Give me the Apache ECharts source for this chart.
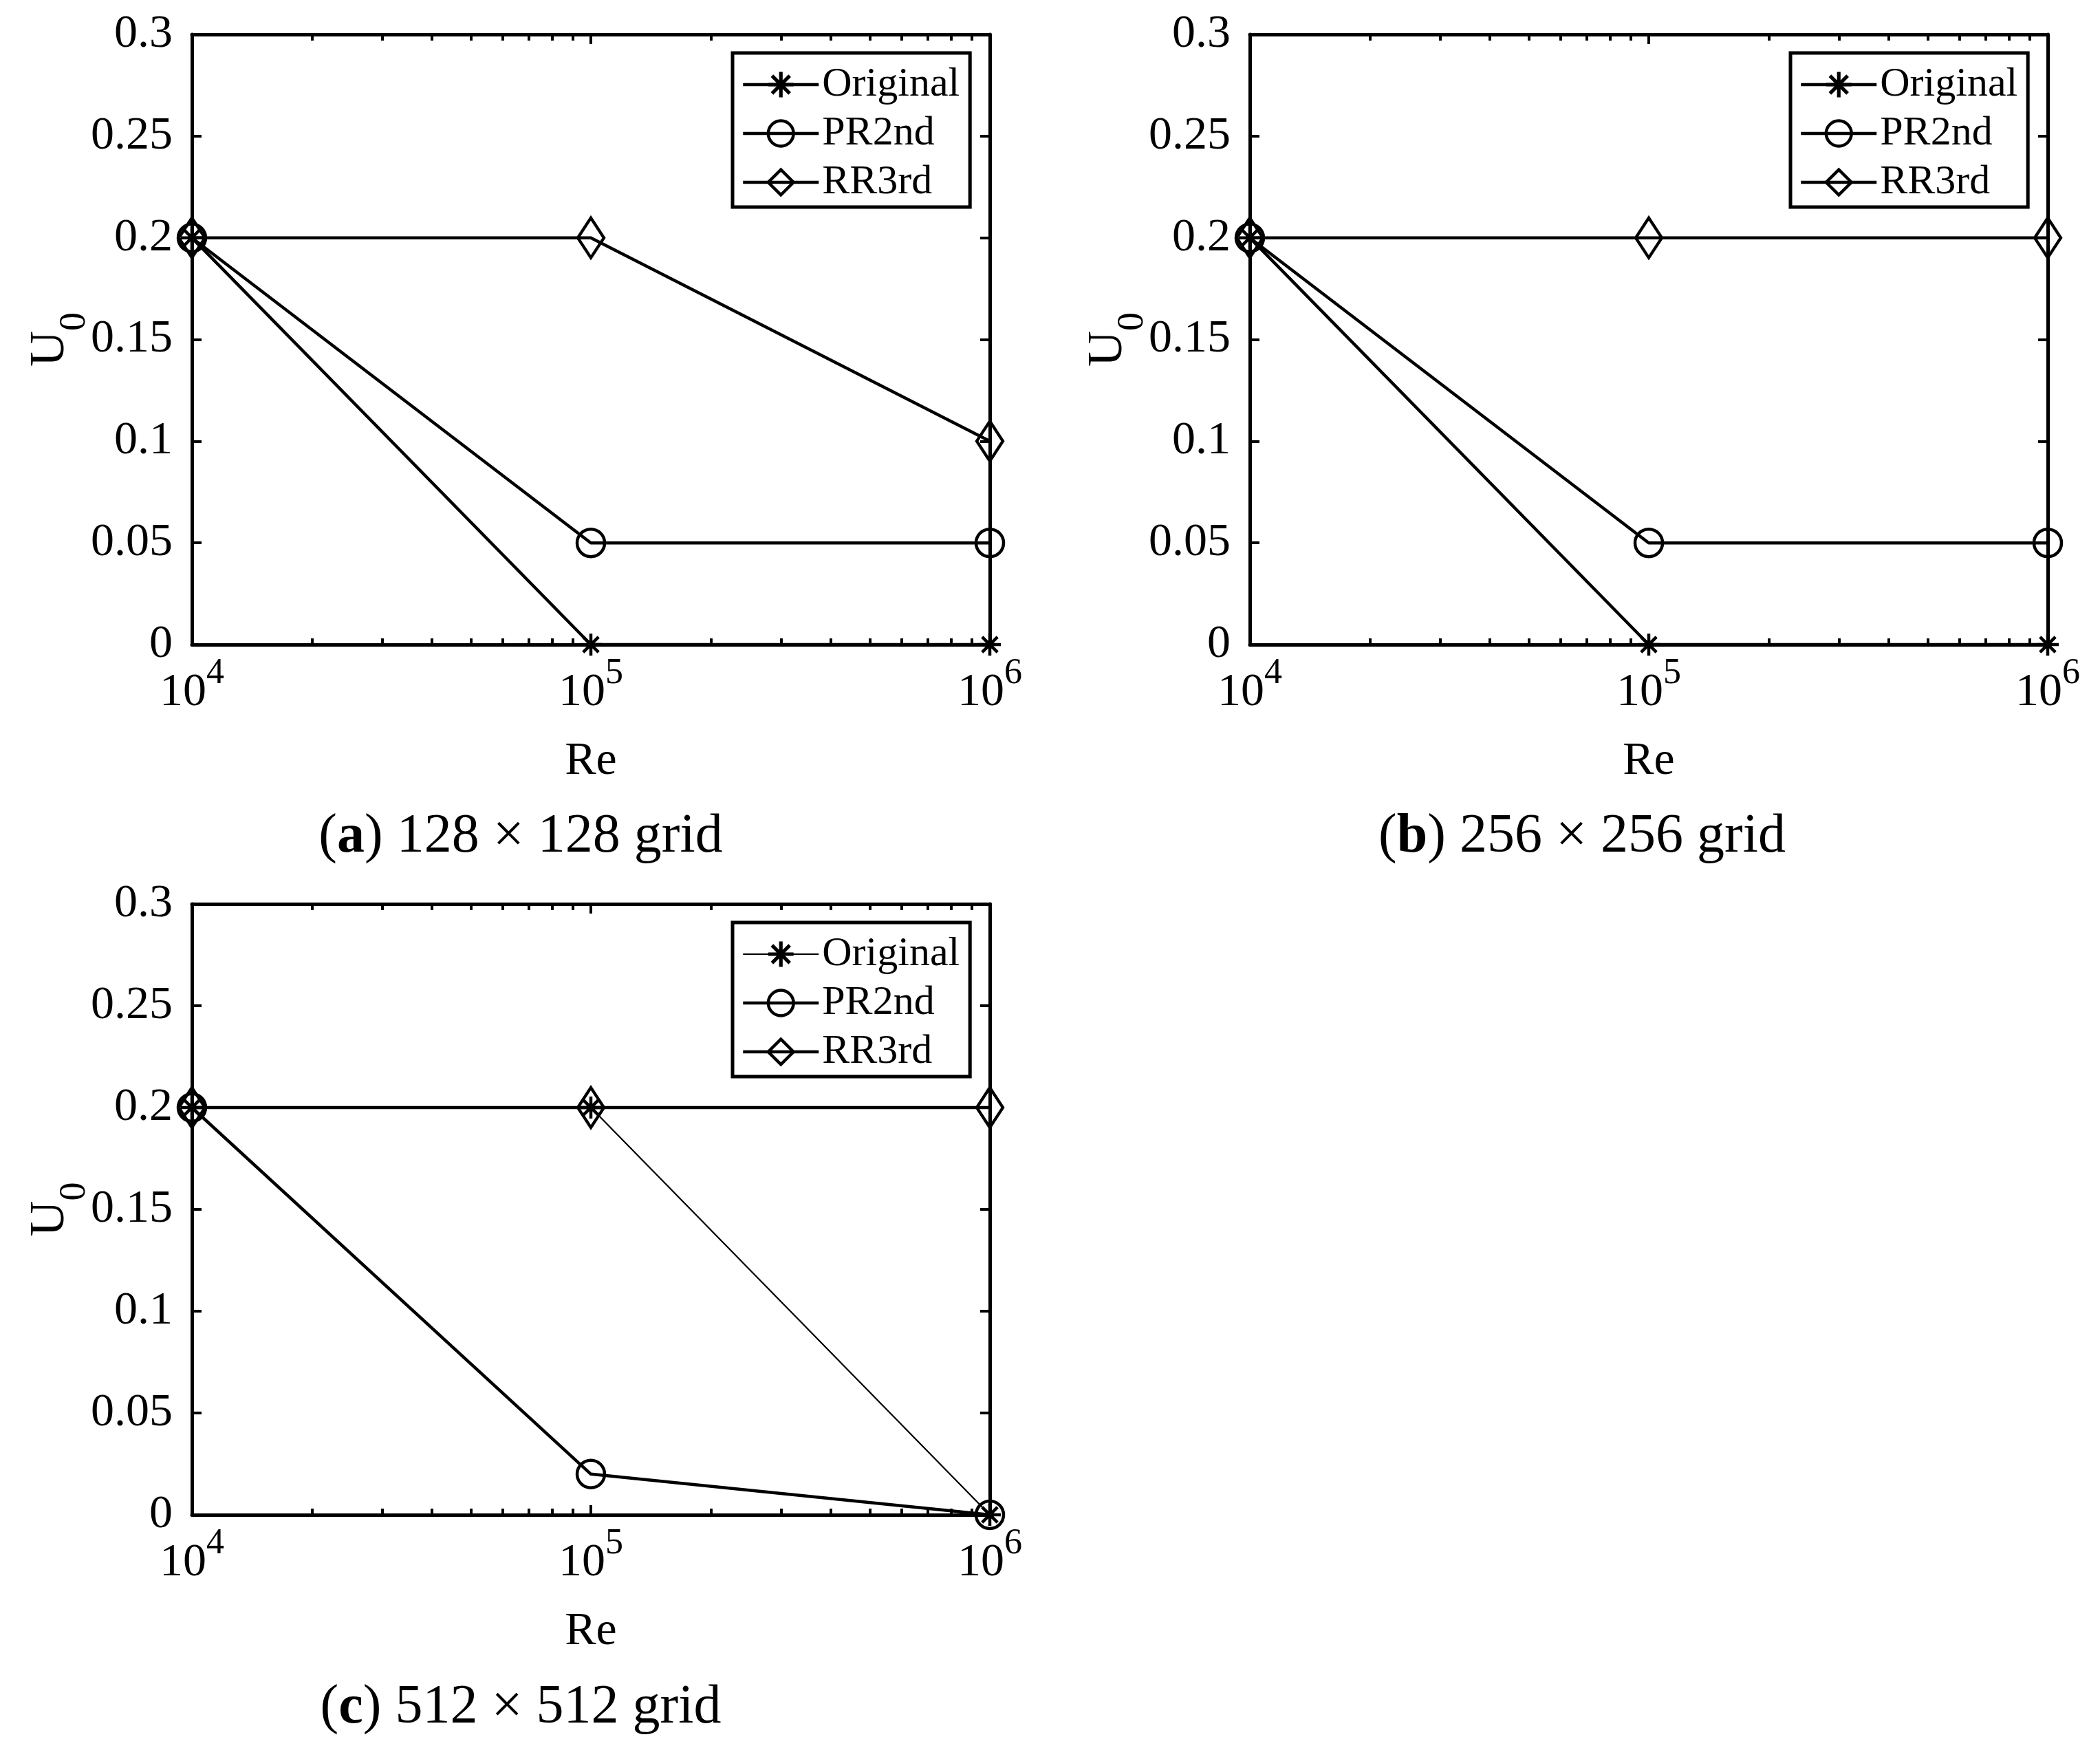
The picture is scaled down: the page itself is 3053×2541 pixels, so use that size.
<!DOCTYPE html>
<html lang="en">
<head>
<meta charset="UTF-8">
<title>U0 vs Re</title>
<script src="https://cdn.jsdelivr.net/npm/echarts@6/dist/echarts.min.js"></script>
<style>
  html, body { margin: 0; padding: 0; background: #fff; }
  #chart { width: 3053px; height: 2541px; }
</style>
</head>
<body>
<div id="chart"></div>
<script>
// data
var reValues = [1e4, 1e5, 1e6];
var reMinorTicks = [2e4, 3e4, 4e4, 5e4, 6e4, 7e4, 8e4, 9e4, 2e5, 3e5, 4e5, 5e5, 6e5, 7e5, 8e5, 9e5];
var seriesNames = ['Original', 'PR2nd', 'RR3rd'];

var originalA = [0.2, 0, 0];
var pr2ndA = [0.2, 0.05, 0.05];
var rr3rdA = [0.2, 0.2, 0.1];

var originalB = [0.2, 0, 0];
var pr2ndB = [0.2, 0.05, 0.05];
var rr3rdB = [0.2, 0.2, 0.2];

var originalC = [0.2, 0.2, 0];
var pr2ndC = [0.2, 0.02, 0];
var rr3rdC = [0.2, 0.2, 0.2];

var captionTags = ['a', 'b', 'c'];
var captionTexts = ['128 × 128 grid', '256 × 256 grid', '512 × 512 grid'];

var FONT = '"Liberation Serif", "Times New Roman", serif';
var ASTERISK = 'path://M43 0L57 0L57 100L43 100Z M0 43L100 43L100 57L0 57Z ' +
  'M20 10L90 80L80 90L10 20Z M80 10L90 20L20 90L10 80Z';

var panels = [
  { left: 279, top: 50, width: 1160, height: 887, series: [originalA, pr2ndA, rr3rdA], origWidth: 4.5, capX: 757, capY: 1217 },
  { left: 1817, top: 50, width: 1160, height: 887, series: [originalB, pr2ndB, rr3rdB], origWidth: 4.5, capX: 2300, capY: 1217 },
  { left: 279, top: 1314, width: 1160, height: 888, series: [originalC, pr2ndC, rr3rdC], origWidth: 2.2, capX: 757, capY: 2483 }
];

var LINE_W = 4.5;

var chart = echarts.init(document.getElementById('chart'));

var grids = [], xAxes = [], yAxes = [], series = [], legends = [], graphics = [];

var axisLine = { show: true, onZero: false, lineStyle: { color: '#000', width: 5 } };
var majorTick = { show: true, inside: true, length: 14, lineStyle: { color: '#000', width: 4 } };

function reLabel(v) {
  return '{m|10}{s|' + Math.round(Math.log10(v)) + '}';
}

panels.forEach(function (p, i) {
  grids.push({ left: p.left, top: p.top, width: p.width, height: p.height, outerBoundsMode: 'none' });

  var logBase = { gridIndex: i, type: 'log', logBase: 10, min: 1e4, max: 1e6, splitLine: { show: false } };
  // bottom axis with labels
  xAxes.push(Object.assign({}, logBase, {
    position: 'bottom', axisLine: axisLine, axisTick: majorTick,
    axisLabel: {
      margin: 36, formatter: reLabel,
      rich: {
        m: { fontFamily: FONT, fontSize: 68, color: '#000', lineHeight: 68 },
        s: { fontFamily: FONT, fontSize: 52, color: '#000', lineHeight: 40, padding: [0, 0, 56, 0] }
      }
    },
    name: 'Re', nameLocation: 'middle', nameGap: 136, nameMoveOverlap: false,
    nameTextStyle: { fontFamily: FONT, fontSize: 68, color: '#000' }
  }));
  // top box edge
  xAxes.push(Object.assign({}, logBase, {
    position: 'top', axisLine: axisLine, axisTick: majorTick, axisLabel: { show: false }
  }));
  // minor ticks, bottom and top
  ['bottom', 'top'].forEach(function (pos) {
    xAxes.push(Object.assign({}, logBase, {
      position: pos, axisLine: { show: false, onZero: false },
      axisTick: { show: true, inside: true, length: 9, customValues: reMinorTicks, lineStyle: { color: '#000', width: 4 } },
      axisLabel: { show: false }
    }));
  });

  var valBase = { gridIndex: i, type: 'value', min: 0, max: 0.3, interval: 0.05, splitLine: { show: false } };
  yAxes.push(Object.assign({}, valBase, {
    position: 'left', axisLine: axisLine, axisTick: majorTick,
    axisLabel: { margin: 28, fontFamily: FONT, fontSize: 68, color: '#000' },
    name: '{u|U}{s|0}', nameLocation: 'middle', nameRotate: 90, nameGap: 170, nameMoveOverlap: false,
    nameTextStyle: {
      rich: {
        u: { fontFamily: FONT, fontSize: 72, color: '#000', lineHeight: 72 },
        s: { fontFamily: FONT, fontSize: 54, color: '#000', lineHeight: 40, padding: [72, 0, 0, 0] }
      }
    }
  }));
  yAxes.push(Object.assign({}, valBase, {
    position: 'right', axisLine: axisLine, axisTick: majorTick, axisLabel: { show: false }
  }));

  var styles = [
    { symbol: ASTERISK, symbolSize: 32, lineWidth: p.origWidth, itemStyle: { color: '#000', borderWidth: 0 } },
    { symbol: 'circle', symbolSize: 40, lineWidth: LINE_W, itemStyle: { color: 'transparent', borderColor: '#000', borderWidth: LINE_W } },
    { symbol: 'diamond', symbolSize: [38, 58], lineWidth: LINE_W, itemStyle: { color: 'transparent', borderColor: '#000', borderWidth: LINE_W } }
  ];
  p.series.forEach(function (vals, k) {
    var st = styles[k];
    series.push({
      name: seriesNames[k], type: 'line', xAxisIndex: i * 4, yAxisIndex: i * 2,
      data: reValues.map(function (re, j) { return [re, vals[j]]; }),
      symbol: st.symbol, symbolSize: st.symbolSize, showAllSymbol: true, clip: false,
      lineStyle: { color: '#000', width: st.lineWidth },
      itemStyle: st.itemStyle,
      emphasis: { disabled: true },
      animation: false
    });
  });

  legends.push({
    orient: 'vertical', left: p.left + 786, top: p.top + 27,
    padding: [16, 15, 6, 13], itemWidth: 110, itemHeight: 46, itemGap: 11,
    borderColor: '#000', borderWidth: 5, backgroundColor: '#fff', borderRadius: 0,
    textStyle: { fontFamily: FONT, fontSize: 60, color: '#000' },
    selectedMode: false,
    data: [
      { name: 'Original', lineStyle: { width: p.origWidth }, itemStyle: { borderWidth: 0 } },
      { name: 'PR2nd', lineStyle: { width: LINE_W }, itemStyle: { borderWidth: LINE_W } },
      { name: 'RR3rd', lineStyle: { width: LINE_W }, itemStyle: { borderWidth: LINE_W } }
    ]
  });

  graphics.push({
    type: 'text', x: p.capX, y: p.capY,
    style: {
      text: '{n|(}{b|' + captionTags[i] + '}{n|) ' + captionTexts[i] + '}',
      align: 'center', verticalAlign: 'middle',
      rich: {
        n: { fontFamily: FONT, fontSize: 80, fill: '#000' },
        b: { fontFamily: FONT, fontSize: 80, fontWeight: 'bold', fill: '#000' }
      }
    }
  });
});

chart.setOption({
  backgroundColor: '#fff',
  animation: false,
  grid: grids,
  xAxis: xAxes,
  yAxis: yAxes,
  legend: legends,
  series: series,
  graphic: { elements: graphics }
});
</script>
</body>
</html>
